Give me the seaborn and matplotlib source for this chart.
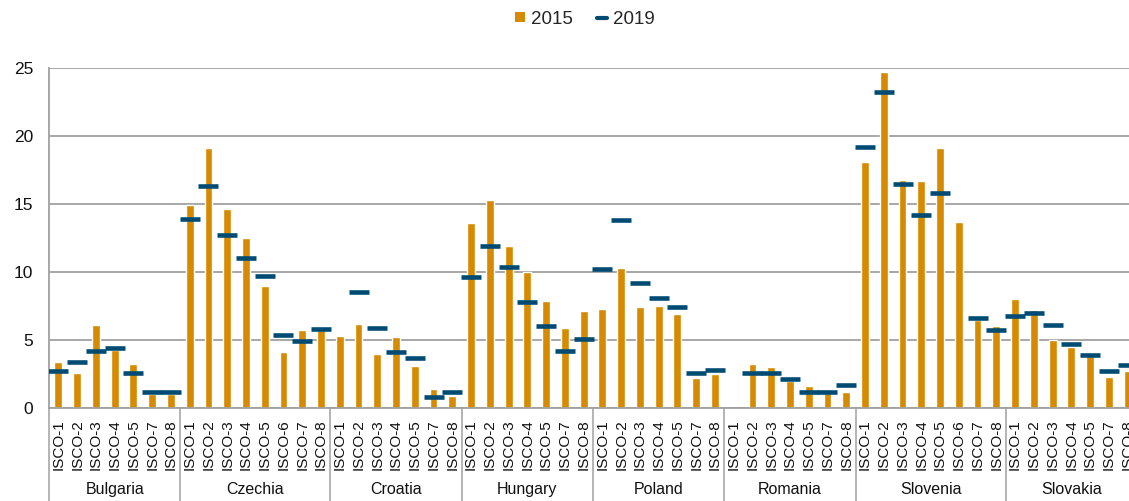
"""Occupation-level values by country, 2015 bars vs 2019 markers."""

import numpy as np
import pandas as pd
import matplotlib.pyplot as plt
from matplotlib.lines import Line2D
from matplotlib.patches import Patch
import seaborn as sns

ORANGE = "#D68A00"
BLUE = "#004B73"
GREY = "#A0A0A0"

COUNTRIES = ["Bulgaria", "Czechia", "Croatia", "Hungary", "Poland", "Romania", "Slovenia", "Slovakia"]
ISCO_7 = ["ISCO-1", "ISCO-2", "ISCO-3", "ISCO-4", "ISCO-5", "ISCO-7", "ISCO-8"]
ISCO_8 = ["ISCO-1", "ISCO-2", "ISCO-3", "ISCO-4", "ISCO-5", "ISCO-6", "ISCO-7", "ISCO-8"]
CODES = [ISCO_7, ISCO_8, ISCO_7, ISCO_7, ISCO_7, ISCO_7, ISCO_8, ISCO_7]

V2015 = [
    [3.4, 2.6, 6.1, 4.3, 3.2, 1.0, 1.0],
    [14.9, 19.1, 14.6, 12.5, 9.0, 4.1, 5.7, 5.7],
    [5.3, 6.2, 4.0, 5.2, 3.1, 1.4, 0.9],
    [13.6, 15.3, 11.9, 10.0, 7.9, 5.9, 7.1],
    [7.3, 10.3, 7.4, 7.5, 6.9, 2.2, 2.5],
    [np.nan, 3.2, 3.0, 2.0, 1.6, 1.1, 1.15],
    [18.1, 24.7, 16.8, 16.7, 19.1, 13.7, 6.45, 6.0],
    [8.0, 7.2, 5.0, 4.5, 3.8, 2.3, 2.75],
]
V2019 = [
    [2.75, 3.4, 4.2, 4.4, 2.55, 1.15, 1.15],
    [13.9, 16.3, 12.7, 11.0, 9.7, 5.4, 4.95, 5.8],
    [np.nan, 8.5, 5.9, 4.1, 3.7, 0.8, 1.2],
    [9.6, 11.9, 10.4, 7.8, 6.0, 4.2, 5.1],
    [10.2, 13.8, 9.2, 8.1, 7.4, 2.6, 2.8],
    [np.nan, 2.55, 2.55, 2.1, 1.15, 1.15, 1.7],
    [19.2, 23.2, 16.5, 14.2, 15.8, np.nan, 6.6, 5.75],
    [6.8, 7.0, 6.1, 4.7, 3.9, 2.75, 3.15],
]

rows = []
for country, codes, a, b in zip(COUNTRIES, CODES, V2015, V2019):
    for code, x1, x2 in zip(codes, a, b):
        rows.append({"country": country, "isco": code, "v2015": x1, "v2019": x2})
df = pd.DataFrame(rows)
df["pos"] = np.arange(len(df))

sns.set_theme(style="white")
plt.rcParams["font.family"] = ["Liberation Sans", "DejaVu Sans"]

fig = plt.figure(figsize=(11.29, 5.01), dpi=100)
ax = fig.add_axes([49 / 1129, 93 / 501, 1088 / 1129, 340 / 501])

sns.barplot(data=df, x="pos", y="v2015", order=list(df["pos"]), color=ORANGE,
            saturation=1, width=0.42, errorbar=None, ax=ax)
sns.scatterplot(data=df, x="pos", y="v2019", marker="_", s=200, color=BLUE,
                linewidth=3.3, ax=ax, zorder=3)

ax.set_xlim(-0.5, len(df) - 0.5)
ax.set_ylim(0, 25)
ax.set_yticks(range(0, 26, 5))
ax.yaxis.grid(True, color=GREY, linewidth=1.3)
ax.set_axisbelow(True)
for side in ["top", "right"]:
    ax.spines[side].set_visible(False)
for side in ["left", "bottom"]:
    ax.spines[side].set_color(GREY)
    ax.spines[side].set_linewidth(1.3)
ax.tick_params(axis="y", length=4.5, color=GREY, width=1.3, pad=7, labelsize=12.5, labelcolor="#111111")
ax.set_xlabel("")
ax.set_ylabel("")

ax.set_xticks(df["pos"])
ax.set_xticklabels(df["isco"], rotation=90, fontsize=11, color="#111111")
ax.tick_params(axis="x", which="major", length=0, pad=8)
ax.set_xticks(np.arange(len(df) + 1) - 0.5, minor=True)
ax.tick_params(axis="x", which="minor", length=46, color=GREY, width=1.1, direction="out")

# country separators and names
sizes = np.array([len(c) for c in CODES])
bounds = np.concatenate([[0], np.cumsum(sizes)]) - 0.5
ax.vlines(bounds, -0.28, 0, transform=ax.get_xaxis_transform(), clip_on=False,
          color=GREY, linewidth=1.1)
for country, lo, hi in zip(COUNTRIES, bounds[:-1], bounds[1:]):
    ax.text((lo + hi) / 2, -0.241, country, transform=ax.get_xaxis_transform(),
            ha="center", va="center", fontsize=11.5, color="#111111")

handles = [Patch(facecolor=ORANGE, edgecolor="none"),
           Line2D([], [], color=BLUE, linewidth=3)]
fig.legend(handles, ["2015", "2019"], loc="center", bbox_to_anchor=(0.518, 0.962),
           ncol=2, frameon=False, fontsize=13.5, handlelength=0.55, handleheight=0.5,
           handletextpad=0.3, columnspacing=1.3)

fig.savefig("out.png", dpi=100)
